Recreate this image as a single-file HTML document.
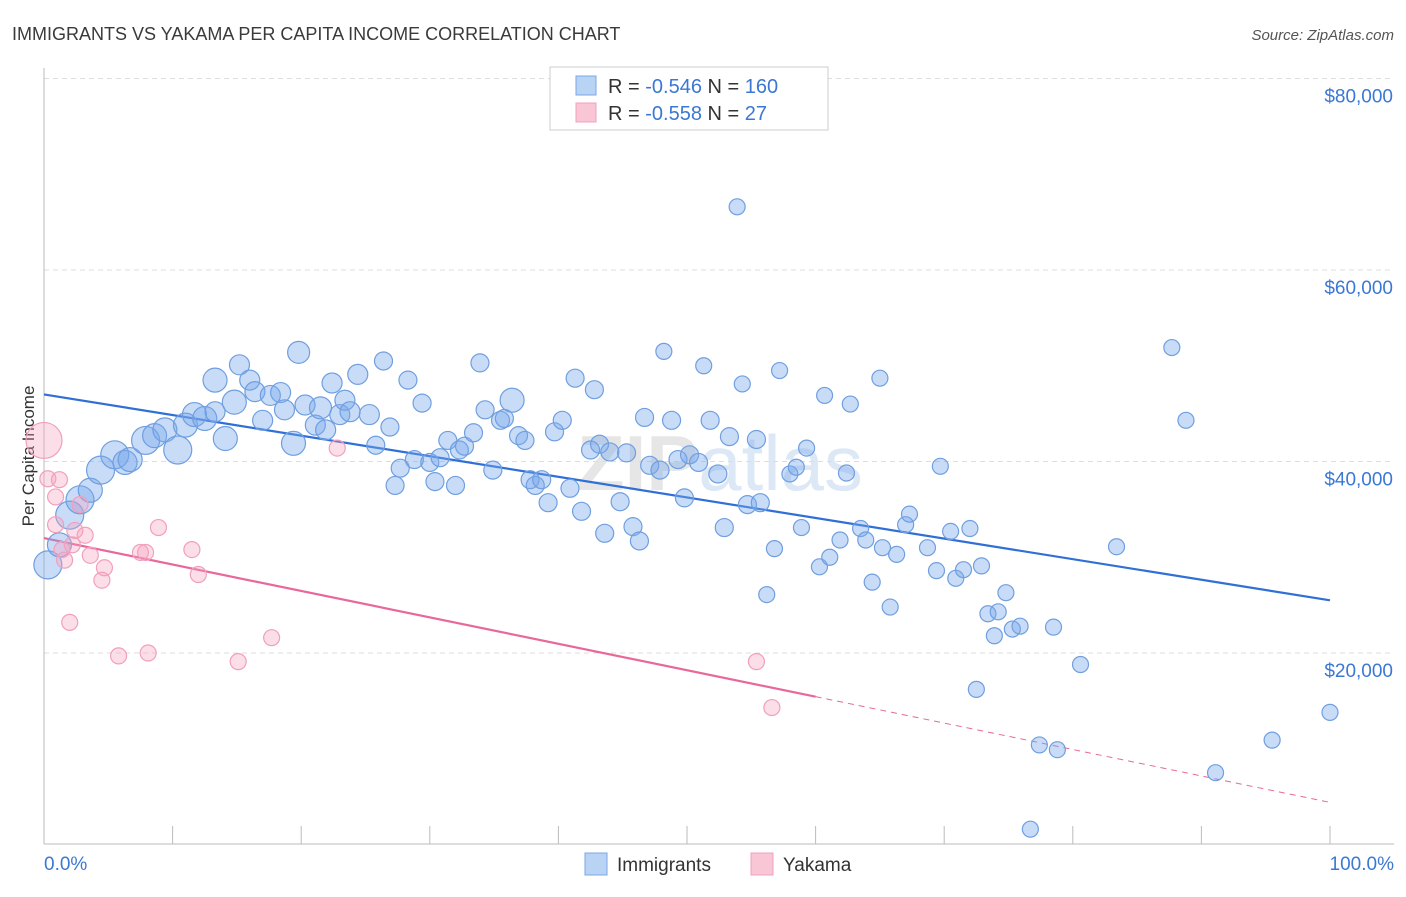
<!DOCTYPE html>
<html><head><meta charset="utf-8">
<style>
body{margin:0;background:#fff;font-family:"Liberation Sans",sans-serif;}
svg text{font-family:"Liberation Sans",sans-serif;}
</style></head>
<body>
<svg id="chart" width="1406" height="892" xmlns="http://www.w3.org/2000/svg">
<text x="12" y="40" font-size="18" fill="#3a3a3a">IMMIGRANTS VS YAKAMA PER CAPITA INCOME CORRELATION CHART</text>
<text x="1394" y="40" font-size="15" fill="#555" text-anchor="end" font-style="italic">Source: ZipAtlas.com</text>
<text x="720" y="490" font-size="78" fill="#e6e6e6" text-anchor="middle" font-weight="bold">ZIP<tspan font-weight="normal" fill="#dce8f6">atlas</tspan></text>
<g id="grid"></g>
<g id="axes"></g>
<text transform="translate(34,456) rotate(-90)" font-size="17" fill="#333" text-anchor="middle">Per Capita Income</text>
<g id="trend"></g>
<g id="pts"></g>
<g>
<rect x="550" y="67" width="278" height="63" fill="#fff" stroke="#ccc"/>
<rect x="576" y="76" width="20" height="19" fill="#b9d3f5" stroke="#7aa7e6"/>
<rect x="576" y="103" width="20" height="19" fill="#f9c6d6" stroke="#f0a0bd"/>
<text x="608" y="93" font-size="20" fill="#333">R = <tspan fill="#3b78d4">-0.546</tspan>   N = <tspan fill="#3b78d4">160</tspan></text>
<text x="608" y="120" font-size="20" fill="#333">R = <tspan fill="#3b78d4">-0.558</tspan>   N = <tspan fill="#3b78d4">  27</tspan></text>
</g>
<g>
<rect x="585" y="853" width="22" height="22" fill="#b9d3f5" stroke="#7aa7e6"/>
<text x="617" y="871" font-size="19" fill="#333">Immigrants</text>
<rect x="751" y="853" width="22" height="22" fill="#f9c6d6" stroke="#f0a0bd"/>
<text x="783" y="871" font-size="19" fill="#333">Yakama</text>
</g>
</svg>
<script>
const blueX=[0.3,1.2,2.0,2.8,3.6,4.4,5.5,6.3,6.7,7.9,8.6,9.4,10.4,11.0,11.7,12.5,13.3,14.1,14.8,13.3,15.2,16.0,16.4,17.0,17.6,18.4,18.7,19.4,19.8,20.3,21.1,21.5,21.9,22.4,23.0,23.4,23.8,24.4,25.3,25.8,26.4,26.9,27.3,27.7,28.3,28.8,29.4,30.0,30.4,30.8,31.4,32.0,32.3,32.7,33.4,33.9,34.3,34.9,35.5,35.8,36.4,36.9,37.4,37.8,38.2,38.7,39.2,39.7,40.3,40.9,41.3,41.8,42.5,42.8,43.2,43.6,44.0,44.8,45.3,45.8,46.3,46.7,47.1,47.9,48.2,48.8,49.3,49.8,50.2,50.9,51.3,51.8,52.4,52.9,53.3,53.9,54.3,54.7,55.4,55.7,56.2,56.8,57.2,58.0,58.5,58.9,59.3,60.3,60.7,61.1,61.9,62.4,62.7,63.5,63.9,64.4,65.0,65.2,65.8,66.3,67.0,67.3,68.7,69.4,69.7,70.5,70.9,71.5,72.0,72.5,72.9,73.4,73.9,74.2,74.8,75.3,75.9,76.7,77.4,78.5,78.8,80.6,83.4,87.7,88.8,91.1,95.5,100];
const blueY=[29.2,31.3,34.4,36.0,37.0,39.1,40.7,39.9,40.2,42.2,42.7,43.3,41.2,43.8,44.9,44.5,45.2,42.4,46.2,48.5,50.1,48.5,47.3,44.3,46.9,47.2,45.4,41.9,51.4,45.9,43.8,45.6,43.3,48.2,44.9,46.4,45.2,49.1,44.9,41.7,50.5,43.6,37.5,39.3,48.5,40.2,46.1,39.9,37.9,40.4,42.2,37.5,41.2,41.6,43.0,50.3,45.4,39.1,44.3,44.5,46.4,42.7,42.2,38.1,37.5,38.1,35.7,43.1,44.3,37.2,48.7,34.8,41.2,47.5,41.8,32.5,41.0,35.8,40.9,33.2,31.7,44.6,39.6,39.1,51.5,44.3,40.2,36.2,40.7,39.9,50.0,44.3,38.7,33.1,42.6,66.6,48.1,35.5,42.3,35.7,26.1,30.9,49.5,38.7,39.4,33.1,41.4,29.0,46.9,30.0,31.8,38.8,46.0,33.0,31.8,27.4,48.7,31.0,24.8,30.3,33.4,34.5,31.0,28.6,39.5,32.7,27.8,28.7,33.0,16.2,29.1,24.1,21.8,24.3,26.3,22.5,22.8,1.6,10.4,22.7,9.9,18.8,31.1,51.9,44.3,7.5,10.9,13.8];
const blueW=[14,12,14,14,12,14,14,12,12,14,12,12,14,12,12,12,10,12,12,12,10,10,10,10,10,10,10,12,11,10,10,11,10,10,10,10,10,10,10,9,9,9,9,9,9,9,9,9,9,9,9,9,9,9,9,9,9,9,9,9,12,9,9,9,9,9,9,9,9,9,9,9,9,9,9,9,9,9,9,9,9,9,9,9,8,9,9,9,9,9,8,9,9,9,9,8,8,9,9,9,8,8,8,8,8,8,8,8,8,8,8,8,8,8,8,8,8,8,8,8,8,8,8,8,8,8,8,8,8,8,8,8,8,8,8,8,8,8,8,8,8,8,8,8,8,8,8,8,8,8];
const pinkX=[0,0.3,0.9,1.2,1.4,1.6,2.0,2.2,2.8,3.2,3.6,4.5,4.7,5.8,7.5,7.9,8.1,8.9,11.5,12.0,15.1,17.7,22.8,55.4,56.6,0.9,2.4];
const pinkY=[42.2,38.2,36.3,38.1,30.8,29.7,23.2,31.3,35.5,32.3,30.2,27.6,28.9,19.7,30.5,30.5,20.0,33.1,30.8,28.2,19.1,21.6,41.4,19.1,14.3,33.4,32.8];
const pinkW=[18,8,8,8,8,8,8,8,8,8,8,8,8,8,8,8,8,8,8,8,8,8,8,8,8,8,8];
const yTicks=[20000,40000,60000,80000];
const yTickLabels=["$20,000","$40,000","$60,000","$80,000"];
const xTicks=[0,10,20,30,40,50,60,70,80,90,100];
const blueTrend=[47.0,25.5];
const pinkTrend=[32.0,4.4];
const pinkSolidEnd=60;

const NS="http://www.w3.org/2000/svg";
const sx=v=>44+v*12.86;
const sy=k=>844.5-k*9.575; // k in thousands
function mk(tag,attrs,parent){const e=document.createElementNS(NS,tag);for(const k in attrs)e.setAttribute(k,attrs[k]);parent.appendChild(e);return e;}
const grid=document.getElementById('grid'),axes=document.getElementById('axes'),trend=document.getElementById('trend'),pts=document.getElementById('pts');
yTicks.forEach((t,i)=>{
  const y=sy(t/1000);
  const l=mk('line',{x1:44,x2:1394,y1:y,y2:y,stroke:'#ddd','stroke-dasharray':'5,4'},grid);
  
  
  const tx=mk('text',{x:1393,y:y+24,'font-size':19,fill:'#3b78d4','text-anchor':'end'},axes);
  tx.textContent=yTickLabels[i];
  
  
});
mk('line',{x1:44,x2:44,y1:68,y2:844,stroke:'#bbb'},axes);
mk('line',{x1:44,x2:1394,y1:844,y2:844,stroke:'#bbb'},axes);
xTicks.forEach(t=>{
  const x=sx(t);
  const l=mk('line',{x1:x,x2:x,y1:826,y2:844,stroke:'#bbb'},axes);
  
  
});
const x0=mk('text',{x:44,y:870,'font-size':19,fill:'#3b78d4'},axes);x0.textContent='0.0%';


const x1=mk('text',{x:1394,y:870,'font-size':19,fill:'#3b78d4','text-anchor':'end'},axes);x1.textContent='100.0%';



function drawPts(X,Y,W,fill,stroke,name){
  X.forEach((x,i)=>{
    const c=mk('circle',{cx:sx(x),cy:sy(Y[i]),r:W[i],fill:fill,stroke:stroke,'stroke-width':1.2},pts);
    
    
  });
}
drawPts(blueX,blueY,blueW,'rgba(120,168,235,0.4)','#6f9fe0','immigrants-point');
drawPts(pinkX,pinkY,pinkW,'rgba(245,160,190,0.35)','#f0a0bd','yakama-point');

const bt=mk('line',{x1:sx(0),y1:sy(blueTrend[0]),x2:sx(100),y2:sy(blueTrend[1]),stroke:'#2f6fd6','stroke-width':2.2},trend);


const pAt=x=>pinkTrend[0]+(pinkTrend[1]-pinkTrend[0])*x/100;
const pt=mk('line',{x1:sx(0),y1:sy(pAt(0)),x2:sx(pinkSolidEnd),y2:sy(pAt(pinkSolidEnd)),stroke:'#e8689a','stroke-width':2.2},trend);


const pd=mk('line',{x1:sx(pinkSolidEnd),y1:sy(pAt(pinkSolidEnd)),x2:sx(100),y2:sy(pAt(100)),stroke:'#e8689a','stroke-width':1,'stroke-dasharray':'6,5'},trend);


</script>
</body></html>
